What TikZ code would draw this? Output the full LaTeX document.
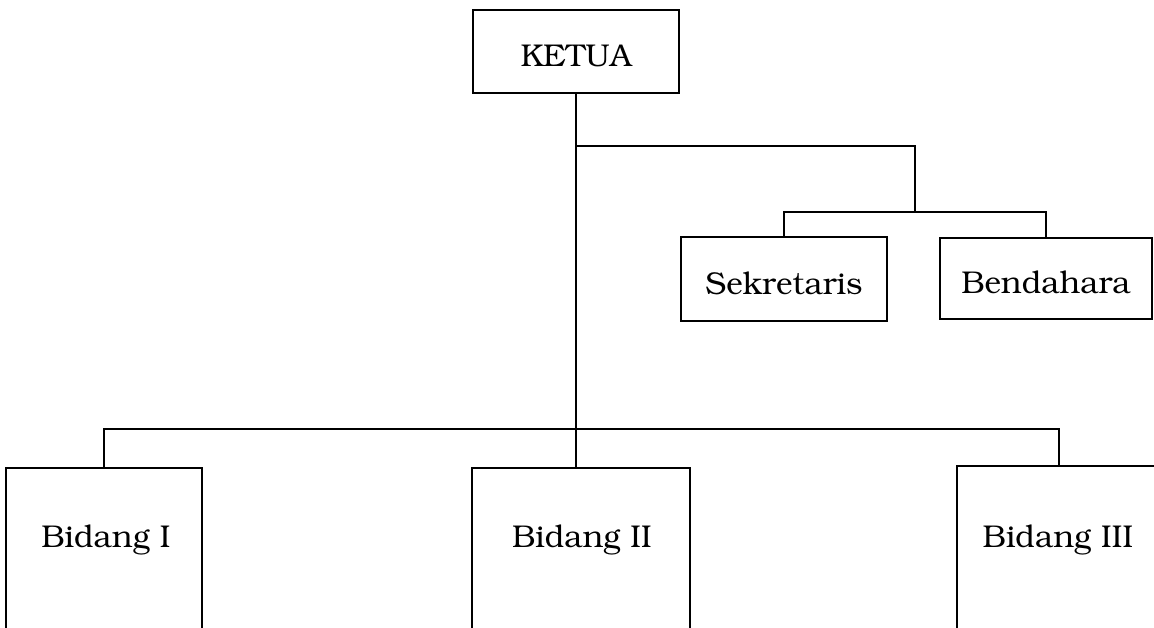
\documentclass[tikz,border=0pt]{standalone}
\usepackage[T1]{fontenc}
\usepackage{bookman}
\tikzset{
  box/.style={draw=black, line width=1.6pt, rectangle, inner sep=0pt},
  lbl/.style={inner sep=0pt, text height=31pt, text depth=0pt, font=\fontsize{31.5}{36}\selectfont},
  con/.style={draw=black, line width=1.6pt},
}
\begin{document}
\begin{tikzpicture}[x=1pt,y=-1pt]
\useasboundingbox (0,0) rectangle (1154,628);
\clip (0,0) rectangle (1154,628);
% boxes
\node[box, lbl, minimum width=206pt, minimum height=83pt] (ketua) at (576,51.5) {KETUA};
\node[box, lbl, minimum width=206pt, minimum height=84pt] (sek) at (784,279) {Sekretaris};
\node[box, lbl, minimum width=212pt, minimum height=81pt] (ben) at (1046,278.5) {Bendahara};
\node[box, minimum width=196pt, minimum height=260pt, anchor=north] (b1) at (104,467) {};
\node[box, minimum width=218pt, minimum height=260pt, anchor=north] (b2) at (581,467) {};
\node[box, minimum width=204pt, minimum height=260pt, anchor=north] (b3) at (1059,465) {};
\node[lbl] (t1) at (106,531.5) {Bidang I};
\node[lbl] (t2) at (582,531.5) {Bidang II};
\node[lbl] (t3) at (1058,531.5) {Bidang III};
% junctions
\coordinate (j1) at (576,146);
\coordinate (j2) at (576,429);
\coordinate (jr) at (915,146);
\coordinate (js) at (915,212);
% connectors
\draw[con] (ketua.south) -- (ketua.south |- b2.north);
\draw[con] (j1) -- (jr) -- (js);
\draw[con] (sek.north) -- (sek.north |- js) -- (ben.north |- js) -- (ben.north);
\draw[con] (b1.north) -- (b1.north |- j2) -- (b3.north |- j2) -- (b3.north);
\end{tikzpicture}
\end{document}
